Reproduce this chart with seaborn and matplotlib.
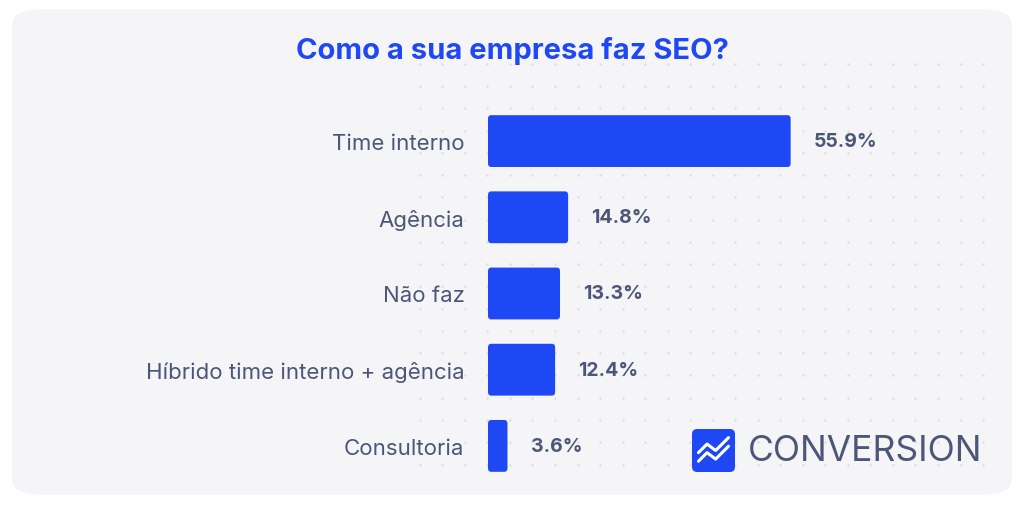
import numpy as np
import matplotlib.pyplot as plt
import seaborn as sns
import pandas as pd
from matplotlib.patches import FancyBboxPatch

categories = ["Time interno", "Agência", "Não faz", "Híbrido time interno + agência", "Consultoria"]
values = [55.9, 14.8, 13.3, 12.4, 3.6]

blue = "#1f48f5"
grey = "#4b5679"

sns.set_theme(style="white")
plt.rcParams['font.family'] = ['Inter', 'DejaVu Sans']

fig = plt.figure(figsize=(10.24, 5.06), dpi=100)
fig.patch.set_facecolor("white")
# rounded card background
card = FancyBboxPatch((0.012, 0.02), 0.976, 0.96, boxstyle="round,pad=0,rounding_size=0.03",
                      transform=fig.transFigure, facecolor="#f5f5f7", edgecolor="none", zorder=-2)
fig.patches.append(card)
# faint dot grid
xs, ys = np.meshgrid(np.arange(0.41, 0.97, 0.022), np.arange(0.08, 0.9, 0.044))
fig.add_artist(plt.Line2D(xs.ravel(), ys.ravel(), ls="none", marker=".", ms=1.5,
                          color="#dcdce3", transform=fig.transFigure, zorder=-1))

ax = fig.add_axes([488/1024, 0.0415, 1 - 488/1024, 0.753])
df = pd.DataFrame({"cat": categories, "val": values})
sns.barplot(data=df, x="val", y="cat", color=blue, width=0.68, ax=ax, saturation=1)
ax.set_xlim(0, 99)
ax.patch.set_alpha(0)
for p in list(ax.patches):
    x, y, w, h = p.get_x(), p.get_y(), p.get_width(), p.get_height()
    p.remove()
    ax.add_patch(FancyBboxPatch((x, y), w, h, boxstyle="round,pad=0,rounding_size=0.6",
                                mutation_aspect=0.08, facecolor=blue, edgecolor="none"))
for i, v in enumerate(values):
    ax.text(v + 4.3, i, f"{v}%", va="center", ha="left", fontsize=14, fontweight="bold", color=grey)
ax.set_xlabel("")
ax.set_ylabel("")
ax.set_xticks([])
ax.tick_params(axis="y", length=0, pad=17, labelsize=16, labelcolor=grey)
sns.despine(ax=ax, left=True, bottom=True)

fig.text(0.5, 0.9, "Como a sua empresa faz SEO?", ha="center", va="center",
         fontsize=21, fontweight="bold", color=blue)

# logo
logo = fig.add_axes([692/1024, 1 - 473/506, 43/1024, 43/506])
logo.axis("off")
logo.add_patch(FancyBboxPatch((0, 0), 1, 1, boxstyle="round,pad=0,rounding_size=0.12",
                              facecolor=blue, edgecolor="none"))
logo.plot([0.15, 0.35, 0.55, 0.85], [0.45, 0.65, 0.5, 0.8], color="white", lw=2.2)
logo.plot([0.15, 0.35, 0.55, 0.85], [0.25, 0.45, 0.3, 0.6], color="white", lw=2.2)
logo.set_xlim(0, 1)
logo.set_ylim(0, 1)
fig.text(748/1024, 1 - 452/506, "CONVERSION", ha="left", va="center", fontsize=25.5, color=grey)

fig.savefig("out.png", dpi=100, facecolor="white")
